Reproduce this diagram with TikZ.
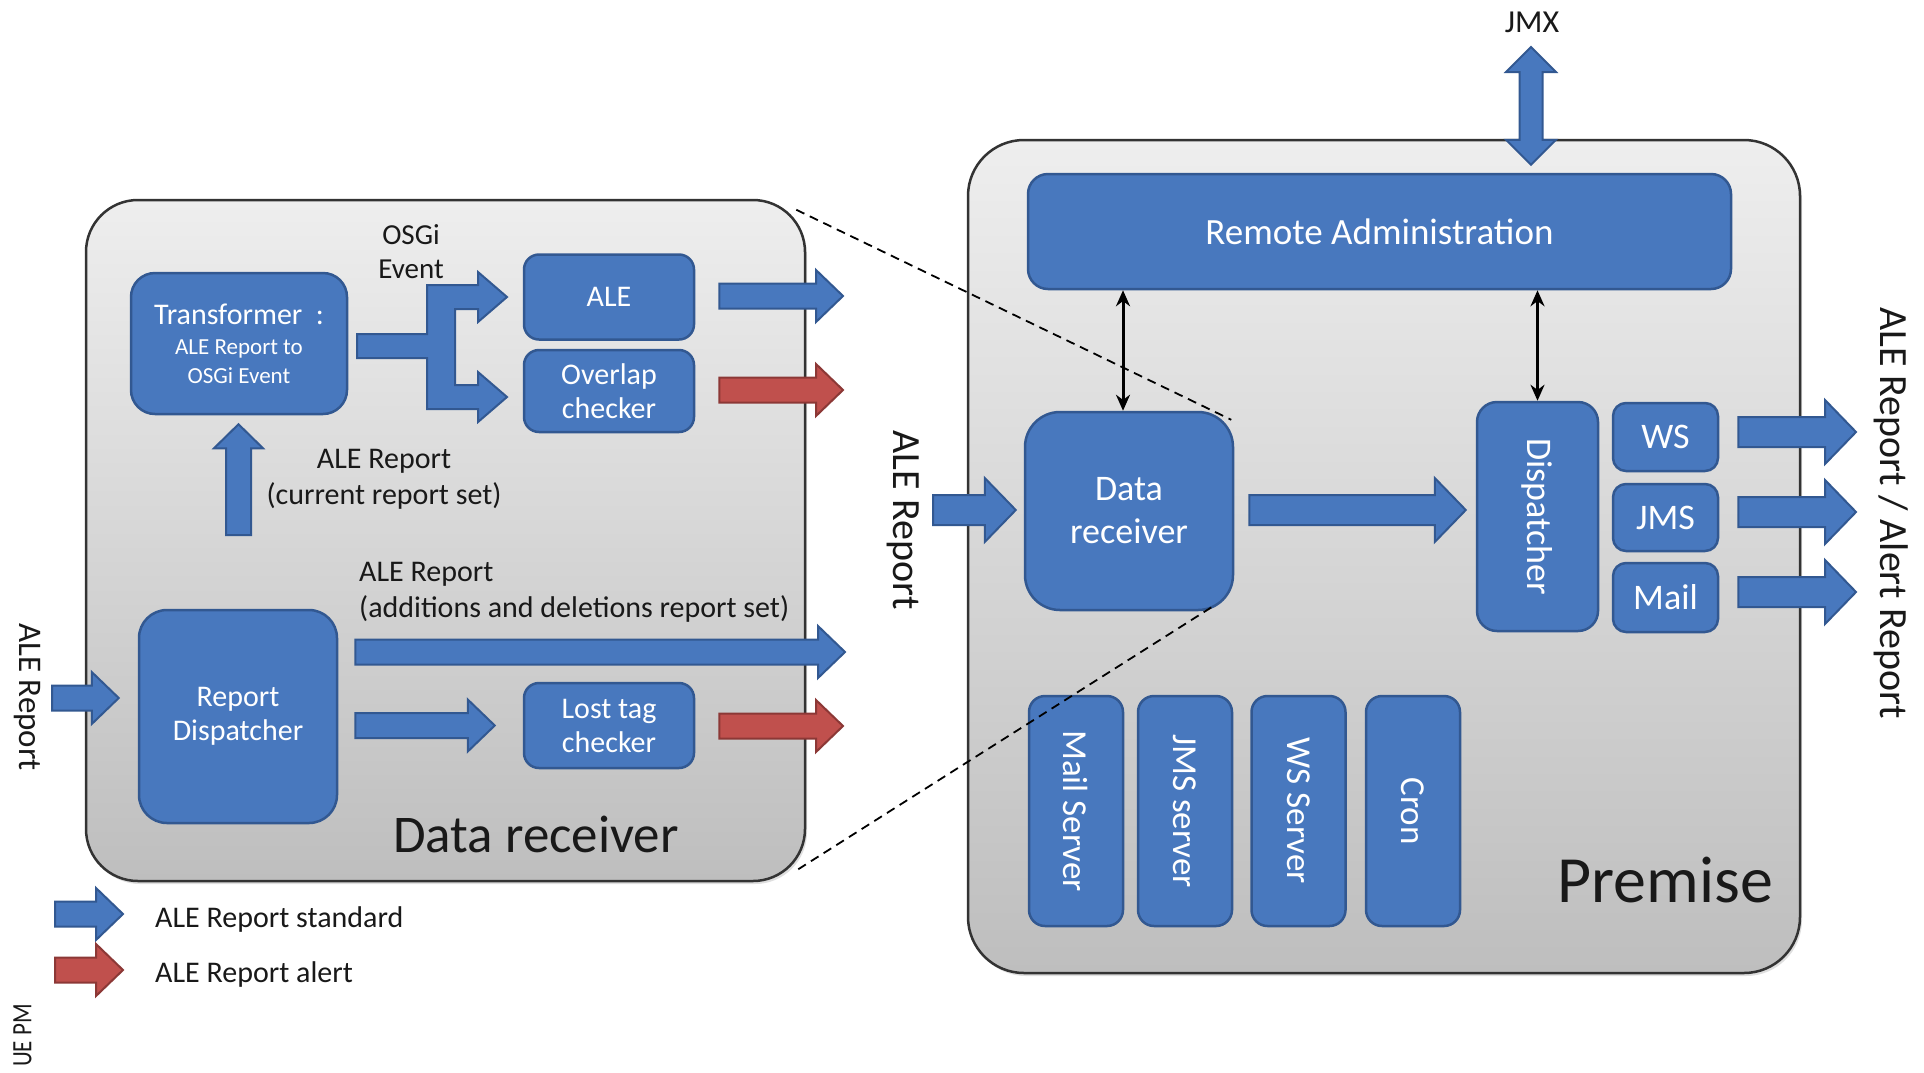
\documentclass[tikz,border=0pt]{standalone}
\usepackage{fontspec}
\usepackage{graphicx}
\setmainfont{Carlito}
\usetikzlibrary{calc,arrows.meta,shadows}

\definecolor{boxblue}{RGB}{72,120,190}
\definecolor{boxedge}{RGB}{50,88,145}
\definecolor{alertred}{RGB}{192,80,77}
\definecolor{alertedge}{RGB}{140,56,54}
\definecolor{paneltop}{RGB}{238,238,238}
\definecolor{panelbot}{RGB}{190,190,190}
\definecolor{inktext}{RGB}{25,25,25}

\newcommand\fs[2]{\fontsize{#1}{#2}\selectfont}

\tikzset{
  panel/.style={draw=black!80, line width=2.5pt, rounded corners=52pt,
    top color=paneltop, bottom color=panelbot, inner sep=0pt,
    drop shadow={shadow xshift=2pt, shadow yshift=-3pt, opacity=0.25}},
  bbox/.style={draw=boxedge, line width=2.5pt, fill=boxblue, text=white,
    align=center, inner sep=0pt, rounded corners=15pt, font=\fs{30}{34}},
  rbox/.style={bbox, font=\fs{36}{43}},
  lbl/.style={text=inktext, align=center, inner sep=0pt},
  bluefill/.style={fill=boxblue, draw=boxedge, line width=2pt},
  redfill/.style={fill=alertred, draw=alertedge, line width=2pt},
  % rightward block arrow, small (left panel)
  blkS/.style={to path={let \p1=(\tikztostart), \p2=(\tikztotarget) in
    (\x1,\y1+12.5pt) -- (\x2-27pt,\y1+12.5pt) -- (\x2-27pt,\y1+26pt) -- (\x2,\y1)
    -- (\x2-27pt,\y1-26pt) -- (\x2-27pt,\y1-12.5pt) -- (\x1,\y1-12.5pt) -- cycle}},
  % rightward block arrow, large (premise)
  blkL/.style={to path={let \p1=(\tikztostart), \p2=(\tikztotarget) in
    (\x1,\y1+15pt) -- (\x2-31pt,\y1+15pt) -- (\x2-31pt,\y1+32pt) -- (\x2,\y1)
    -- (\x2-31pt,\y1-32pt) -- (\x2-31pt,\y1-15pt) -- (\x1,\y1-15pt) -- cycle}},
  % upward block arrow
  blkU/.style={to path={let \p1=(\tikztostart), \p2=(\tikztotarget) in
    (\x1-12.5pt,\y1) -- (\x1-12.5pt,\y2-24pt) -- (\x1-24.5pt,\y2-24pt) -- (\x1,\y2)
    -- (\x1+24.5pt,\y2-24pt) -- (\x1+12.5pt,\y2-24pt) -- (\x1+12.5pt,\y1) -- cycle}},
  % vertical double-headed block arrow, top tip to bottom tip
  blkUD/.style={to path={let \p1=(\tikztostart), \p2=(\tikztotarget) in
    (\x1,\y1) -- (\x1+25pt,\y1-25pt) -- (\x1+11.5pt,\y1-25pt) -- (\x1+11.5pt,\y2+25pt)
    -- (\x1+25pt,\y2+25pt) -- (\x1,\y2) -- (\x1-25pt,\y2+25pt) -- (\x1-11.5pt,\y2+25pt)
    -- (\x1-11.5pt,\y1-25pt) -- (\x1-25pt,\y1-25pt) -- cycle}},
  thinarr/.style={line width=3pt, {Stealth[length=16pt,width=14pt]}-{Stealth[length=16pt,width=14pt]}},
  dashline/.style={black, line width=1.8pt, dash pattern=on 9pt off 6pt}
}

\begin{document}
\begin{tikzpicture}[x=1pt,y=-1pt]
\useasboundingbox (0,0) rectangle (1924,1072);
\fill[white] (0,0) rectangle (1924,1072);

% ---------- containers ----------
\node[panel, minimum width=719pt, minimum height=681pt] (leftc) at (445.5,540.5) {};
\node[panel, rounded corners=56pt, minimum width=832pt, minimum height=833pt] (rightc) at (1384,556.5) {};

% ---------- data receiver internals ----------
\node[bbox, font=\fs{23}{29}, rounded corners=24pt, minimum width=216pt, minimum height=141pt] (trans) at (239,343.5)
  {\fs{30}{30}Transformer\ \ :\\[1pt]ALE Report to\\OSGi Event};
\node[bbox, minimum width=170pt, minimum height=85pt] (ale) at (609,297) {ALE};
\node[bbox, minimum width=170pt, minimum height=82pt] (ovl) at (609,391) {Overlap\\checker};
\node[bbox, rounded corners=28pt, minimum width=198pt, minimum height=213pt] (rdisp) at (238,716.5) {Report\\Dispatcher};
\node[bbox, minimum width=170pt, minimum height=85pt] (lost) at (609,725.5) {Lost tag\\checker};

% ---------- premise internals ----------
\node[rbox, font=\fs{37}{44}, rounded corners=20pt, minimum width=703pt, minimum height=115pt] (radm) at (1379.5,231.5) {Remote Administration};
\node[rbox, rounded corners=35pt, minimum width=208pt, minimum height=198pt] (drr) at (1129,511) {Data\\receiver};
\node[rbox, rounded corners=20pt, minimum width=121pt, minimum height=229pt] (disp) at (1537.5,516.5) {\rotatebox{-90}{Dispatcher}};
\node[rbox, rounded corners=13pt, minimum width=105pt, minimum height=68pt] (ws) at (1665.5,437) {WS};
\node[rbox, rounded corners=13pt, minimum width=105pt, minimum height=67pt] (jms) at (1665.5,517.5) {JMS};
\node[rbox, rounded corners=13pt, minimum width=105pt, minimum height=69pt] (mail) at (1665.5,597.5) {Mail};
\node[rbox, font=\fs{35}{42}, rounded corners=16pt, minimum width=94pt, minimum height=230pt] (msrv) at (1076,811) {\rotatebox{-90}{Mail Server}};
\node[rbox, font=\fs{35}{42}, rounded corners=16pt, minimum width=94pt, minimum height=230pt] (jsrv) at (1185,811) {\rotatebox{-90}{JMS server}};
\node[rbox, font=\fs{35}{42}, rounded corners=16pt, minimum width=94pt, minimum height=230pt] (wsrv) at (1298.5,811) {\rotatebox{-90}{WS Server}};
\node[rbox, font=\fs{35}{42}, rounded corners=16pt, minimum width=94pt, minimum height=230pt] (cron) at (1413,811) {\rotatebox{-90}{Cron}};

% ---------- labels ----------
\node[lbl, font=\fs{29}{34}] (osgi) at (411,252) {OSGi\\Event};
\node[lbl, font=\fs{30}{36}] (curset) at (384,479) {ALE Report\\(current report set)};
\node[lbl, font=\fs{30}{36}, align=left, anchor=west] (addset) at (359,592) {ALE Report\\(additions and deletions report set)};
\node[lbl, font=\fs{53}{60}] (drlabel) at (536,834) {Data receiver};
\node[lbl, font=\fs{66}{76}] (premlabel) at (1665,880) {Premise};
\node[lbl, font=\fs{32}{38}] (jmx) at (1532,22) {JMX};
\node[lbl, font=\fs{33}{40}, rotate=-90] (inLtxt) at (27,697) {ALE Report};
\node[lbl, font=\fs{40}{48}, rotate=-90] (inRtxt) at (903,520) {ALE Report};
\node[lbl, font=\fs{40}{48}, rotate=-90] (outtxt) at (1891,513) {ALE Report / Alert Report};
\node[lbl, font=\fs{28}{32}, rotate=90] (stamp) at (22.5,1035.5) {\scalebox{0.82}[1]{UE PM}};
\node[lbl, font=\fs{30}{34}, anchor=west] (legstd) at (155,919) {ALE Report standard};
\node[lbl, font=\fs{30}{34}, anchor=west] (legalt) at (155,974) {ALE Report alert};

% ---------- free arrow ends ----------
\coordinate (aleout) at (843,296);
\coordinate (ovlout) at (843,390);
\coordinate (longout) at (845,652);
\coordinate (lostout) at (843,726);
\coordinate (inL) at (52,698);
\coordinate (upfoot) at (238.5,535);
\coordinate (inR) at (933,510);
\coordinate (wsout) at (1856,432);
\coordinate (jmsout) at (1856,512);
\coordinate (mailout) at (1856,592);
\coordinate (jmxtop) at (1531,47);

% ---------- block arrows, data receiver ----------
\filldraw[bluefill] (357,334) -- (427,334) -- (427,285) -- (478,285) -- (478,272) -- (507,297)
  -- (478,322) -- (478,309) -- (455,309) -- (455,385) -- (478,385) -- (478,372) -- (507,397)
  -- (478,422) -- (478,409) -- (427,409) -- (427,358) -- (357,358) -- cycle;
\draw[bluefill, blkU] (upfoot) to ($(trans.south)+(0,9)$);
\draw[bluefill, blkS] ($(ale.east |- aleout)+(24,0)$) to (aleout);
\draw[redfill, blkS] ($(ovl.east |- ovlout)+(24,0)$) to (ovlout);
\draw[bluefill, blkS] ($(rdisp.east |- longout)+(17,0)$) to (longout);
\draw[bluefill, blkS] ($(rdisp.east |- lost.west)+(17,0)$) to ($(lost.west)+(-28,0)$);
\draw[redfill, blkS] ($(lost.east |- lostout)+(24,0)$) to (lostout);
\draw[bluefill, blkS] (inL) to ($(rdisp.west |- inL)+(-19,0)$);

% ---------- legend ----------
\draw[bluefill, blkS] ($(legstd.west)+(-100,-5)$) to ($(legstd.west)+(-32,-5)$);
\draw[redfill, blkS] ($(legalt.west)+(-100,-4)$) to ($(legalt.west)+(-32,-4)$);

% ---------- block arrows, premise ----------
\draw[bluefill, blkUD] (jmxtop) to ($(radm.north -| jmxtop)+(0,-8)$);
\draw[bluefill, blkL] (inR) to ($(drr.west |- inR)+(-8,0)$);
\draw[bluefill, blkL] ($(drr.east |- inR)+(15,0)$) to ($(disp.west |- inR)+(-10,0)$);
\draw[bluefill, blkL] ($(ws.east |- wsout)+(19,0)$) to (wsout);
\draw[bluefill, blkL] ($(jms.east |- jmsout)+(19,0)$) to (jmsout);
\draw[bluefill, blkL] ($(mail.east |- mailout)+(19,0)$) to (mailout);

% ---------- administration links ----------
\draw[thinarr] ($(drr.north)+(-6,0)$) -- ($(drr.north |- radm.south)+(-6,0)$);
\draw[thinarr] (disp.north) -- (disp.north |- radm.south);

% ---------- zoom guide lines ----------
\draw[dashline] ($(leftc.north east)+(-10,11)$) -- ($(drr.north east)+(-3,9)$);
\draw[dashline] ($(leftc.south east)+(-8,-13)$) -- ($(drr.south east)+(-18,-7)$);
\end{tikzpicture}
\end{document}
